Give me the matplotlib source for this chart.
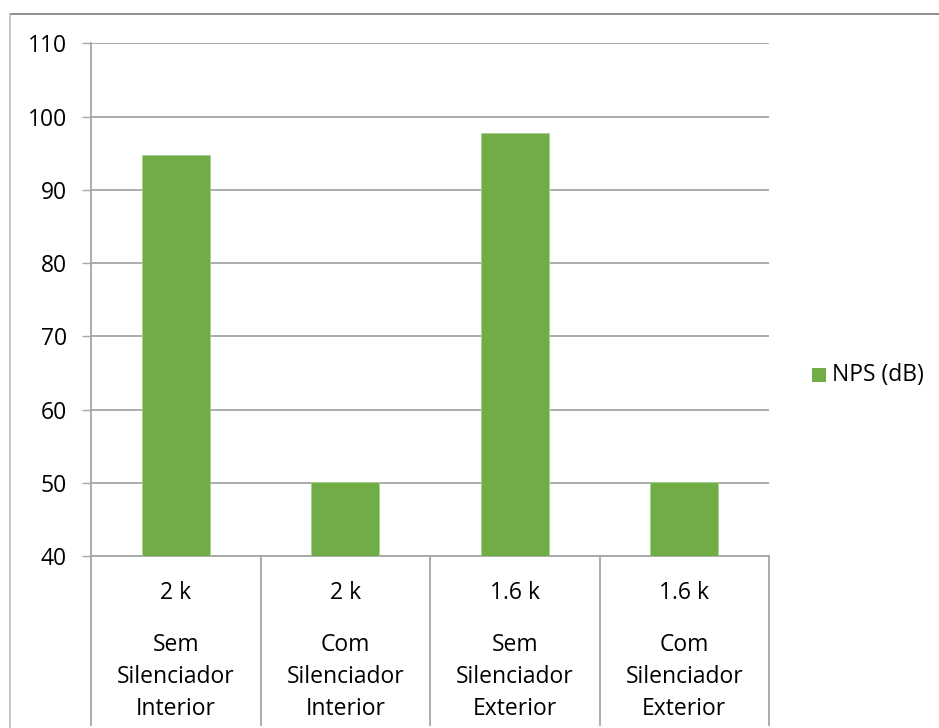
import matplotlib
matplotlib.use("Agg")
import matplotlib.pyplot as plt
from matplotlib.lines import Line2D
from matplotlib.patches import Rectangle

# ---- data ----
freq_labels = ["2 k", "2 k", "1.6 k", "1.6 k"]
cond_labels = [["Sem", "Silenciador", "Interior"],
               ["Com", "Silenciador", "Interior"],
               ["Sem", "Silenciador", "Exterior"],
               ["Com", "Silenciador", "Exterior"]]
nps_values = [94.8, 50.2, 97.8, 50.2]
series_name = "NPS (dB)"
y_ticks = [40, 50, 60, 70, 80, 90, 100, 110]

W, H = 939, 728
GREEN = "#70AD47"
GRID = "#A6A6A6"
FONT = "Open Sans"
FS = 16.5

fig = plt.figure(figsize=(W / 100, H / 100), dpi=100)
fig.patch.set_facecolor("white")

left_px, right_px, top_px, bot_px = 91, 769, 43.3, 556.4
ax = fig.add_axes([left_px / W, 1 - bot_px / H, (right_px - left_px) / W, (bot_px - top_px) / H])

x = list(range(len(nps_values)))
ax.bar(x, [v - y_ticks[0] for v in nps_values], bottom=y_ticks[0], width=0.4,
       color=GREEN, edgecolor="#A9D18E", linewidth=0.6, zorder=3)
ax.set_xlim(-0.5, len(nps_values) - 0.5)
ax.set_ylim(y_ticks[0], y_ticks[-1])
ax.set_yticks(y_ticks)
ax.set_yticklabels([str(t) for t in y_ticks], fontfamily=FONT, fontsize=FS, color="#000000")
ax.tick_params(axis="y", length=6.5, width=1.0, color=GRID, pad=11)
ax.set_xticks([])
ax.grid(axis="y", color=GRID, linewidth=1.3, zorder=0)
for s in ["top", "right"]:
    ax.spines[s].set_visible(False)
ax.spines["left"].set_color(GRID)
ax.spines["left"].set_linewidth(1.3)
ax.spines["bottom"].set_color(GRID)
ax.spines["bottom"].set_linewidth(1.3)

# category separators
trans = ax.get_xaxis_transform()
h_ax = bot_px - top_px
def yfrac(py):
    return (bot_px - py) / h_ax

for i in range(len(nps_values) + 1):
    xs = i - 0.5
    ax.add_line(Line2D([xs, xs], [0, yfrac(725)], transform=trans, color=GRID,
                       linewidth=1.3, clip_on=False))

# category labels
baselines = [650.7, 682.7, 715.0]
for i in x:
    ax.text(i, yfrac(599.3), freq_labels[i], transform=trans, ha="center", va="baseline",
            fontfamily=FONT, fontsize=FS, color="#000000")
    for line, b in zip(cond_labels[i], baselines):
        ax.text(i, yfrac(b), line, transform=trans, ha="center", va="baseline",
                fontfamily=FONT, fontsize=FS, color="#000000")

# legend
fig.patches.append(Rectangle((812 / W, 1 - 382 / H), 14 / W, 14 / H, transform=fig.transFigure,
                             facecolor=GREEN, edgecolor="none"))
fig.text(832 / W, 1 - 375 / H, series_name, ha="left", va="center",
         fontfamily=FONT, fontsize=FS, color="#000000")

# outer frame
fig.add_artist(Line2D([10 / W, 1], [1 - 14 / H, 1 - 14 / H], transform=fig.transFigure,
                      color="#8C8C8C", linewidth=1.4))
fig.add_artist(Line2D([10 / W, 10 / W], [0, 1 - 14 / H], transform=fig.transFigure,
                      color="#BFBFBF", linewidth=1.2))

fig.savefig("out.png", dpi=100, facecolor="white")
